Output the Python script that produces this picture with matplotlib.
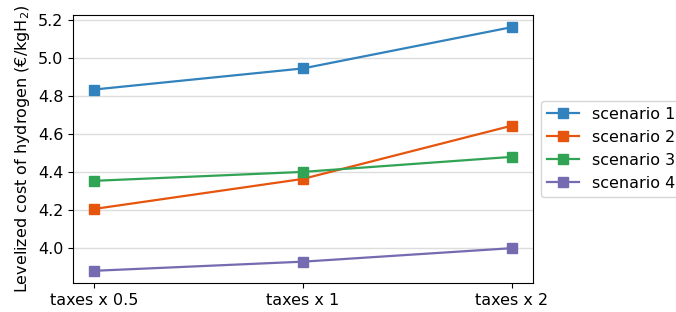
import matplotlib
matplotlib.use("Agg")
import matplotlib.pyplot as plt

categories = ["taxes x 0.5", "taxes x 1", "taxes x 2"]
scenario_1 = [4.835, 4.946, 5.163]
scenario_2 = [4.207, 4.365, 4.645]
scenario_3 = [4.355, 4.402, 4.481]
scenario_4 = [3.882, 3.930, 4.001]
labels = ["scenario 1", "scenario 2", "scenario 3", "scenario 4"]
colors = ["#3182bd", "#e6550d", "#31a354", "#756bb1"]

plt.rcParams["font.size"] = 11.5


def plot_lcoh():
    fig, ax = plt.subplots(figsize=(6.76, 3.12), dpi=100)
    series = [scenario_1, scenario_2, scenario_3, scenario_4]
    for values, label, color in zip(series, labels, colors):
        ax.plot(categories, values, marker="s", color=color, label=label,
                linewidth=1.6, markersize=7)

    ax.set_ylabel("Levelized cost of hydrogen (€/kgH$_2$)")
    ax.grid(True, axis="y", color="#dddddd", linewidth=1)
    ax.set_axisbelow(True)
    ax.legend(loc="center left", bbox_to_anchor=(1.0, 0.5))
    fig.subplots_adjust(left=0.108, right=0.788, top=0.952, bottom=0.093)
    fig.savefig("out.png", dpi=100)


if __name__ == "__main__":
    plot_lcoh()
